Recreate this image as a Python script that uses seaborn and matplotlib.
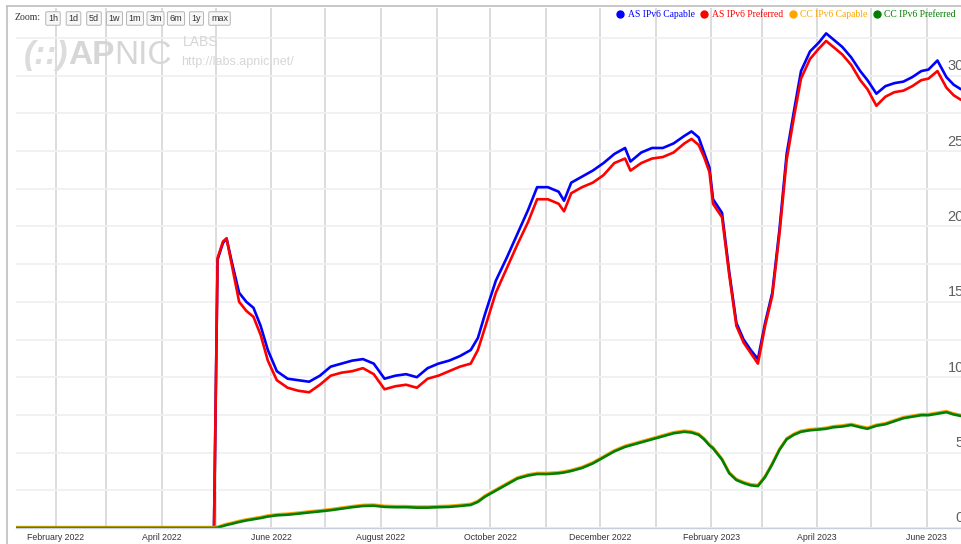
import matplotlib
matplotlib.use("Agg")
import matplotlib.pyplot as plt
import matplotlib.dates as mdates
from matplotlib.ticker import FixedLocator, MultipleLocator
from matplotlib.transforms import ScaledTranslation
from matplotlib.lines import Line2D
import pandas as pd
import seaborn as sns

# values (percent)
dates = ['2022-01-10', '2022-04-30', '2022-05-02', '2022-05-05', '2022-05-07', '2022-05-10',
         '2022-05-14', '2022-05-18', '2022-05-22', '2022-05-26', '2022-05-30', '2022-06-04',
         '2022-06-10', '2022-06-16', '2022-06-22', '2022-06-28', '2022-07-04', '2022-07-10',
         '2022-07-16', '2022-07-22', '2022-07-28', '2022-08-03', '2022-08-09', '2022-08-15',
         '2022-08-21', '2022-08-27', '2022-09-02', '2022-09-08', '2022-09-14', '2022-09-20',
         '2022-09-24', '2022-09-28', '2022-10-04', '2022-10-10', '2022-10-16', '2022-10-22',
         '2022-10-27', '2022-11-02', '2022-11-08', '2022-11-11', '2022-11-15', '2022-11-21',
         '2022-11-27', '2022-12-03', '2022-12-09', '2022-12-15', '2022-12-18', '2022-12-24',
         '2022-12-30', '2023-01-05', '2023-01-11', '2023-01-17', '2023-01-21', '2023-01-25',
         '2023-01-28', '2023-01-31', '2023-02-02', '2023-02-07', '2023-02-11', '2023-02-15',
         '2023-02-19', '2023-02-23', '2023-02-27', '2023-03-03', '2023-03-07', '2023-03-11',
         '2023-03-15', '2023-03-19', '2023-03-23', '2023-03-28', '2023-04-02', '2023-04-06',
         '2023-04-10', '2023-04-15', '2023-04-20', '2023-04-25', '2023-04-29', '2023-05-04',
         '2023-05-09', '2023-05-14', '2023-05-19', '2023-05-24', '2023-05-29', '2023-06-02',
         '2023-06-07', '2023-06-12', '2023-06-16', '2023-06-20']

as_capable = [0, 0, 17.8, 18.9, 19.2, 17.6,
              15.6, 15.0, 14.6, 13.4, 11.8, 10.4,
              9.9, 9.8, 9.7, 10.1, 10.7, 10.9,
              11.1, 11.2, 10.9, 9.9, 10.1, 10.2,
              10.0, 10.6, 10.9, 11.1, 11.4, 11.8,
              12.6, 14.2, 16.4, 17.9, 19.5, 21.1,
              22.6, 22.6, 22.3, 21.7, 22.9, 23.3,
              23.7, 24.2, 24.8, 25.2, 24.3, 24.9,
              25.2, 25.2, 25.5, 26.0, 26.3, 25.9,
              24.9, 23.9, 21.8, 20.9, 17.0, 13.6,
              12.5, 11.8, 11.2, 13.6, 15.6, 19.8,
              24.8, 27.6, 30.3, 31.6, 32.2, 32.8,
              32.4, 31.9, 31.2, 30.3, 29.7, 28.8,
              29.3, 29.5, 29.6, 29.9, 30.3, 30.4,
              31.0, 29.9, 29.4, 29.1]

as_preferred = [0, 0, 17.9, 19.0, 19.2, 17.4,
                15.0, 14.4, 14.0, 12.8, 11.1, 9.8,
                9.3, 9.1, 9.0, 9.5, 10.1, 10.3,
                10.4, 10.6, 10.2, 9.2, 9.4, 9.5,
                9.3, 9.9, 10.1, 10.4, 10.7, 10.9,
                11.8, 13.3, 15.6, 17.2, 18.8, 20.3,
                21.8, 21.8, 21.5, 21.0, 22.2, 22.6,
                22.9, 23.4, 24.2, 24.5, 23.7, 24.2,
                24.5, 24.6, 24.9, 25.5, 25.8, 25.4,
                24.6, 23.6, 21.5, 20.6, 16.8, 13.4,
                12.3, 11.6, 10.9, 13.4, 15.4, 19.5,
                24.4, 27.2, 29.8, 31.1, 31.8, 32.3,
                31.9, 31.4, 30.7, 29.7, 29.1, 28.0,
                28.6, 28.9, 29.0, 29.3, 29.7, 29.8,
                30.3, 29.2, 28.7, 28.4]

cc_capable = [0.06, 0.06, 0.08, 0.2, 0.27, 0.35,
              0.47, 0.57, 0.65, 0.73, 0.83, 0.91,
              0.95, 1.02, 1.1, 1.17, 1.25, 1.35,
              1.45, 1.53, 1.55, 1.47, 1.45, 1.45,
              1.42, 1.42, 1.45, 1.47, 1.53, 1.6,
              1.8, 2.15, 2.55, 2.95, 3.35, 3.55,
              3.65, 3.65, 3.7, 3.75, 3.85, 4.05,
              4.35, 4.75, 5.15, 5.45, 5.55, 5.75,
              5.95, 6.15, 6.35, 6.45, 6.4, 6.25,
              5.95, 5.55, 5.35, 4.6, 3.7, 3.25,
              3.05, 2.9, 2.85, 3.45, 4.3, 5.25,
              5.95, 6.25, 6.45, 6.55, 6.6, 6.65,
              6.75, 6.8, 6.9, 6.75, 6.65, 6.85,
              6.95, 7.15, 7.35, 7.45, 7.55, 7.55,
              7.65, 7.75, 7.6, 7.5]

cc_preferred = [0, 0, 0.02, 0.13, 0.2, 0.28,
                0.4, 0.5, 0.58, 0.66, 0.76, 0.84,
                0.88, 0.95, 1.03, 1.1, 1.18, 1.28,
                1.38, 1.46, 1.48, 1.4, 1.38, 1.38,
                1.35, 1.35, 1.38, 1.4, 1.46, 1.53,
                1.73, 2.08, 2.48, 2.88, 3.28, 3.48,
                3.58, 3.58, 3.63, 3.68, 3.78, 3.98,
                4.28, 4.68, 5.08, 5.38, 5.48, 5.68,
                5.88, 6.08, 6.28, 6.38, 6.33, 6.18,
                5.88, 5.48, 5.28, 4.53, 3.63, 3.18,
                2.98, 2.83, 2.78, 3.38, 4.23, 5.18,
                5.88, 6.18, 6.38, 6.48, 6.53, 6.58,
                6.68, 6.73, 6.83, 6.68, 6.58, 6.78,
                6.88, 7.08, 7.28, 7.38, 7.48, 7.48,
                7.58, 7.68, 7.53, 7.43]

series_names = ['AS IPv6 Capable', 'AS IPv6 Preferred', 'CC IPv6 Capable', 'CC IPv6 Preferred']
series_colors = ['#0000ff', '#ff0000', '#ffa500', '#008000']
y_ticks = [0, 5, 10, 15, 20, 25, 30]
zoom_buttons = ['1h', '1d', '5d', '1w', '1m', '3m', '6m', '1y', 'max']

df = pd.DataFrame({'date': pd.to_datetime(dates),
                   series_names[0]: as_capable,
                   series_names[1]: as_preferred,
                   series_names[2]: cc_capable,
                   series_names[3]: cc_preferred})
long = df.melt(id_vars='date', var_name='series', value_name='value')

sns.set_theme(style='white')
plt.rcParams['font.family'] = ['Liberation Sans', 'DejaVu Sans']

W, H = 961, 544
fig = plt.figure(figsize=(W / 100, H / 100), dpi=100)
ax = fig.add_axes([16 / W, 16 / H, 945 / W, 520 / H])

sns.lineplot(data=long, x='date', y='value', hue='series', hue_order=series_names,
             palette=series_colors, linewidth=1.9, estimator=None, legend=False, ax=ax)

ax.set_xlim(pd.Timestamp('2022-01-09 17:00'), pd.Timestamp('2023-06-20 03:00'))
ax.set_ylim(0, 520 / 15.08)
ax.set_xlabel('')
ax.set_ylabel('')

# monthly grid, labels every other month
ax.xaxis.set_major_locator(mdates.MonthLocator(bymonth=[2, 4, 6, 8, 10, 12]))
ax.xaxis.set_major_formatter(mdates.DateFormatter('%B %Y'))
ax.xaxis.set_minor_locator(mdates.MonthLocator())
ax.yaxis.set_major_locator(FixedLocator(y_ticks))
ax.yaxis.set_minor_locator(MultipleLocator(2.5))
ax.set_axisbelow(True)
ax.grid(which='both', axis='x', color='#d9d9d9', linewidth=1.3)
ax.grid(which='both', axis='y', color='#efeff5', linewidth=1.3)

for side in ['left', 'right', 'top']:
    ax.spines[side].set_visible(False)
ax.spines['bottom'].set_color('#c8cfdc')
ax.spines['bottom'].set_linewidth(1.0)

ax.tick_params(axis='x', which='both', length=0, pad=3.5, labelsize=6.3, labelcolor='#333333')
ax.tick_params(axis='y', which='both', left=False, right=False, length=0,
               labelleft=False, labelright=True, pad=2, labelsize=10.5, labelcolor='#606060')
shift = ScaledTranslation(0, 0.11, fig.dpi_scale_trans)
for tick in ax.yaxis.get_major_ticks():
    tick.label2.set_horizontalalignment('right')
    tick.label2.set_transform(tick.label2.get_transform() + shift)


def fx(px):
    return px / W


def fy(py):
    return 1 - py / H


# container border
fig.add_artist(Line2D([fx(7), fx(7)], [0, fy(6)], transform=fig.transFigure, color='#bdbdbd', lw=1.2))
fig.add_artist(Line2D([fx(7), 1], [fy(6), fy(6)], transform=fig.transFigure, color='#bdbdbd', lw=1.2))

# APNIC watermark
wm = '#d6d6d6'
fig.text(fx(24), fy(64), '(::)', fontsize=24, color='#dcdcdc', fontweight='bold', style='italic', va='baseline')
fig.text(fx(68), fy(64), 'AP', fontsize=24, color=wm, fontweight='bold', va='baseline')
fig.text(fx(114), fy(64), 'NIC', fontsize=24, color=wm, va='baseline')
fig.text(fx(183), fy(46), 'LABS', fontsize=10, color=wm, va='baseline')
fig.text(fx(181), fy(65), 'http://labs.apnic.net/', fontsize=9, color=wm, va='baseline')

# range selector buttons
fig.text(fx(15), fy(18), 'Zoom:', fontsize=7, family='Liberation Serif', color='#333333', va='center')
bx = 45
for lab in zoom_buttons:
    w = 6 + 5 * len(lab)
    fig.text(fx(bx + w / 2), fy(18.5), lab, fontsize=6.5, color='#333333', ha='center', va='center',
             bbox=dict(boxstyle='round,pad=0.25,rounding_size=0.15', fc='#f7f7f7', ec='#b5b5b5', lw=0.7))
    bx += w + 4.5

handles = [Line2D([], [], ls='none', marker='o', ms=5, mfc=c, mec=c) for c in series_colors]
fig.legend(handles, series_names, loc='upper right', bbox_to_anchor=(fx(956), fy(10)), ncol=4,
           frameon=False, prop={'family': 'Liberation Serif', 'size': 6.9}, labelcolor=series_colors,
           handlelength=0.9, handletextpad=0.3, columnspacing=0.6, borderaxespad=0, borderpad=0)

fig.savefig('out.png', dpi=100)
